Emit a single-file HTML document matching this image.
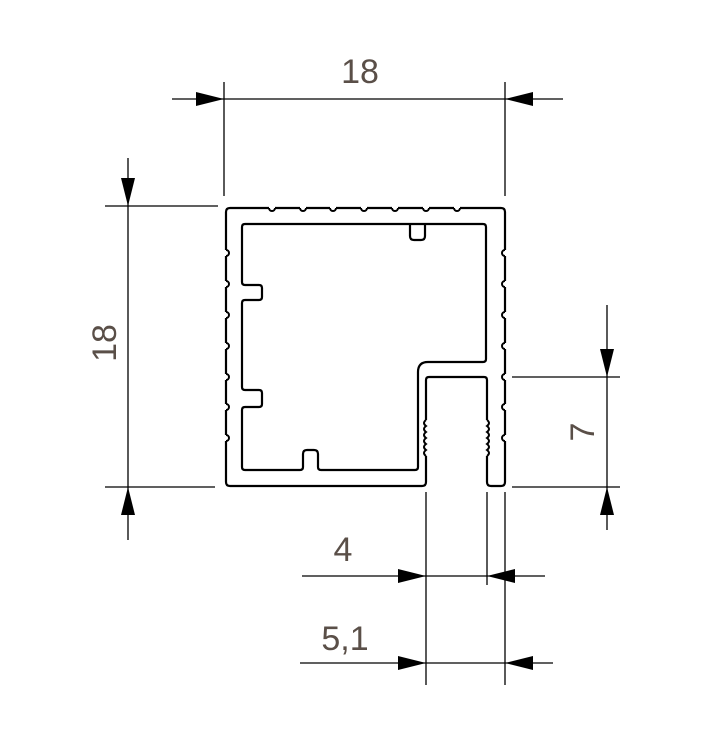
<!DOCTYPE html>
<html><head><style>
html,body{margin:0;padding:0;background:#fff;width:708px;height:752px;overflow:hidden}
svg{display:block}
text{font-family:"Liberation Sans",sans-serif;fill:#5a4f48;font-size:34px}
</style></head><body>
<svg width="708" height="752" viewBox="0 0 708 752" xmlns="http://www.w3.org/2000/svg">
<g stroke="#000" stroke-width="1.3" fill="none">
<line x1="172" y1="99" x2="563" y2="99"/>
<line x1="224" y1="82" x2="224" y2="196"/>
<line x1="505" y1="82" x2="505" y2="196"/>
<line x1="128" y1="158" x2="128" y2="540"/>
<line x1="105" y1="206" x2="218" y2="206"/>
<line x1="105" y1="487" x2="215" y2="487"/>
<line x1="607" y1="305" x2="607" y2="530"/>
<line x1="512" y1="377" x2="620" y2="377"/>
<line x1="512" y1="487" x2="620" y2="487"/>
<line x1="426" y1="492" x2="426" y2="685"/>
<line x1="487" y1="492" x2="487" y2="585"/>
<line x1="505" y1="492" x2="505" y2="685"/>
<line x1="302" y1="576" x2="545" y2="576"/>
<line x1="300" y1="663" x2="553" y2="663"/>
</g>
<g fill="#000">
<polygon points="224,99 196,92 196,106"/>
<polygon points="505,99 533,92 533,106"/>
<polygon points="128,206 121,178 135,178"/>
<polygon points="128,487 121,515 135,515"/>
<polygon points="607,377 600,349 614,349"/>
<polygon points="607,487 600,515 614,515"/>
<polygon points="426,576 398,569 398,583"/>
<polygon points="487,576 515,569 515,583"/>
<polygon points="426,663 398,656 398,670"/>
<polygon points="505,663 533,656 533,670"/>
</g>
<text x="360" y="83" text-anchor="middle">18</text>
<text x="343" y="561" text-anchor="middle">4</text>
<text x="345" y="650" text-anchor="middle">5,1</text>
<text transform="translate(116,343) rotate(-90)" text-anchor="middle">18</text>
<text transform="translate(594,432) rotate(-90)" text-anchor="middle">7</text>
<g stroke="#000" stroke-width="2.2" fill="none" stroke-linejoin="round">
<path d="M230,208 H501 Q505,208 505,212 V482 Q505,486 501,486 H491 Q487,486 487,482 V380 Q487,377 484,377 H429 Q426,377 426,380 V482 Q426,486 422,486 H230 Q226,486 226,482 V212 Q226,208 230,208 Z" fill="#fff"/>
<path d="M245,224 H483 Q486,224 486,227 V359 Q486,362 483,362 H428 Q418,362 418,372 V467 Q418,470 415,470 H321 Q318,470 318,467 V454 Q318,450 314,450 H307 Q303,450 303,454 V467 Q303,470 300,470 H245 Q242,470 242,467 V410 Q242,407 245,407 H259 Q262,407 262,404 V393 Q262,390 259,390 H245 Q242,390 242,387 V303 Q242,300 245,300 H259 Q262,300 262,297 V288 Q262,285 259,285 H245 Q242,285 242,282 V227 Q242,224 245,224 H410 V236 Q410,240 414,240 H421 Q425,240 425,236 V224"/>
</g>
<!-- erase wall segments under bumps -->
<g stroke="#fff" stroke-width="3">
<path d="M269,208 H275 M300,208 H306 M330,208 H336 M361,208 H367 M392,208 H398 M423,208 H429 M454,208 H460"/>
<path d="M226,250 V256 M226,281 V287 M226,312 V318 M226,343 V349 M226,374 V380 M226,404 V410 M226,435 V441"/>
<path d="M505,250 V256 M505,281 V287 M505,312 V318 M505,343 V349 M505,374 V380 M505,404 V410 M505,435 V441"/>
</g>
<g stroke="#000" stroke-width="2" fill="none">
<path d="M269,208 A3,3 0 0 0 275,208 M300,208 A3,3 0 0 0 306,208 M330,208 A3,3 0 0 0 336,208 M361,208 A3,3 0 0 0 367,208 M392,208 A3,3 0 0 0 398,208 M423,208 A3,3 0 0 0 429,208 M454,208 A3,3 0 0 0 460,208"/>
<path d="M226,250 A3,3 0 0 1 226,256 M226,281 A3,3 0 0 1 226,287 M226,312 A3,3 0 0 1 226,318 M226,343 A3,3 0 0 1 226,349 M226,374 A3,3 0 0 1 226,380 M226,404 A3,3 0 0 1 226,410 M226,435 A3,3 0 0 1 226,441"/>
<path d="M505,250 A3,3 0 0 0 505,256 M505,281 A3,3 0 0 0 505,287 M505,312 A3,3 0 0 0 505,318 M505,343 A3,3 0 0 0 505,349 M505,374 A3,3 0 0 0 505,380 M505,404 A3,3 0 0 0 505,410 M505,435 A3,3 0 0 0 505,441"/>
</g>
<g stroke="#fff" stroke-width="3">
<path d="M426,420 V456 M487,420 V456"/>
</g>
<g stroke="#000" stroke-width="2" fill="none">
<path d="M426,420 q-4,3 0,6 q-4,3 0,6 q-4,3 0,6 q-4,3 0,6 q-4,3 0,6 q-4,3 0,6"/>
<path d="M487,420 q4,3 0,6 q4,3 0,6 q4,3 0,6 q4,3 0,6 q4,3 0,6 q4,3 0,6"/>
</g>
</svg>
</body></html>
